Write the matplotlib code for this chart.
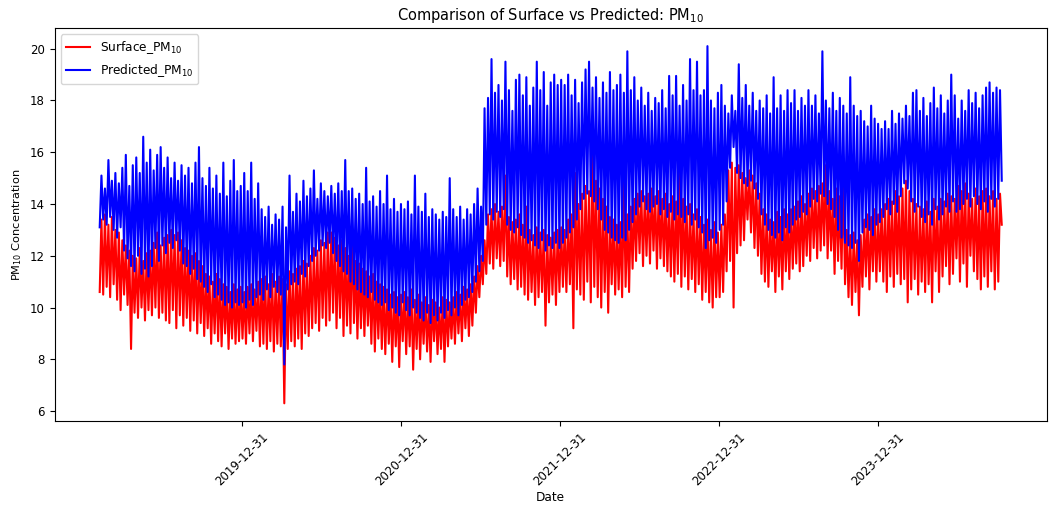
import pandas as pd
import matplotlib
matplotlib.use('Agg')
import matplotlib.pyplot as plt
import matplotlib.dates as mdates

# values, one every 4 days starting 2019-02-07
surface_2019 = [10.6, 13.4, 10.5, 13.6, 10.8, 13.2, 10.4, 13.5, 10.9, 13.0,
                10.3, 12.9, 9.9, 12.6, 10.5, 12.4, 10.1, 12.2, 8.4, 12.0,
                9.8, 11.9, 9.6, 12.3, 10.0, 11.8, 9.5, 12.1, 9.9, 12.2,
                9.7, 12.5, 10.0, 12.9, 9.6, 12.4, 9.8, 12.7, 9.5, 12.8,
                9.4, 13.0, 9.9, 12.8, 9.2, 12.9, 9.7, 12.6, 9.3, 12.3,
                9.6, 12.2, 9.1, 12.0, 9.5, 12.1, 9.0, 11.8, 9.4, 11.6,
                8.9, 11.3, 9.2, 11.2, 8.6, 11.0, 9.0, 11.3, 8.7, 11.1,
                8.5, 10.9, 9.0, 10.8, 8.4, 10.6, 8.8, 10.9, 8.6, 10.7,
                8.7, 10.8]
surface_2020 = [8.8, 10.6, 8.6, 10.8, 9.0, 10.9, 8.7, 10.7, 9.1, 11.0,
                8.5, 11.1, 8.6, 11.2, 8.4, 10.9, 8.7, 11.3, 8.3, 11.0,
                8.6, 11.2, 8.5, 11.1, 6.3, 10.9, 8.4, 11.4, 8.7, 11.3,
                8.5, 11.5, 8.8, 11.6, 8.4, 11.8, 9.0, 11.7, 8.9, 12.0,
                9.2, 12.3, 9.4, 12.2, 9.1, 12.6, 9.6, 12.5, 9.3, 12.9,
                9.5, 12.9, 9.8, 12.7, 9.2, 12.4, 9.6, 12.6, 8.9, 12.3,
                9.3, 12.0, 9.0, 13.0, 9.4, 11.8, 8.8, 11.7, 9.2, 11.5,
                8.9, 11.4, 9.3, 11.2, 8.6, 11.3, 8.3, 11.0, 8.8, 10.9,
                8.4, 10.8, 8.2, 10.7, 8.6, 10.5, 7.9, 10.6, 8.5, 10.4,
                7.7, 10.5]
surface_2021 = [8.7, 10.6, 8.2, 10.4, 8.5, 10.7, 7.6, 10.3, 8.4, 10.5,
                8.0, 10.2, 8.6, 10.4, 8.3, 10.1, 7.9, 10.3, 8.7, 10.2,
                8.2, 10.0, 8.4, 10.4, 7.9, 10.3, 8.5, 10.2, 8.8, 10.4,
                8.6, 10.6, 9.0, 10.5, 8.7, 10.8, 9.2, 10.7, 8.9, 10.9,
                9.3, 11.2, 9.8, 11.6, 10.4, 12.0, 10.9, 12.6, 11.3, 13.6,
                11.7, 13.8, 11.5, 14.0, 11.9, 13.7, 11.6, 13.9, 11.8, 15.1,
                11.2, 13.5, 10.9, 13.3, 11.1, 13.4, 10.7, 13.6, 10.8, 13.2,
                10.5, 13.9, 10.3, 13.0, 10.6, 12.8, 10.1, 13.1, 10.4, 12.9,
                10.6, 13.0, 9.3, 12.8, 10.2, 12.7, 10.5, 12.9, 10.1, 13.0,
                10.6, 13.1]
surface_2022 = [10.8, 13.0, 10.6, 13.4, 10.9, 13.6, 9.2, 15.2, 10.7, 14.0,
                10.5, 14.4, 10.3, 14.7, 11.0, 14.5, 10.2, 15.9, 10.8, 14.9,
                10.4, 14.6, 10.0, 14.2, 10.6, 13.9, 9.8, 13.5, 10.9, 13.4,
                10.5, 13.2, 10.7, 13.3, 10.4, 14.9, 10.8, 13.6, 10.6, 13.9,
                11.5, 14.2, 11.8, 14.4, 12.1, 14.5, 11.6, 14.3, 12.0, 14.4,
                11.7, 14.6, 12.2, 14.3, 11.5, 14.5, 11.9, 14.2, 11.6, 14.4,
                11.4, 14.0, 11.2, 14.3, 11.0, 14.1, 11.3, 15.6, 10.8, 14.2,
                11.2, 13.9, 10.7, 14.0, 11.1, 13.6, 10.6, 13.8, 10.9, 13.5,
                10.3, 13.2, 10.6, 13.4, 10.2, 13.0, 10.0, 13.3, 10.4, 12.9,
                10.4, 13.2]
surface_2023 = [10.6, 13.6, 11.4, 15.3, 11.8, 15.6, 10.0, 15.4, 12.1, 15.5,
                12.4, 15.2, 12.6, 15.0, 13.4, 15.3, 12.9, 15.1, 12.3, 14.8,
                12.0, 14.4, 11.3, 13.8, 11.0, 13.6, 10.8, 13.4, 11.4, 13.3,
                10.6, 13.7, 11.2, 13.5, 10.7, 13.8, 11.4, 13.6, 11.1, 13.8,
                11.5, 13.9, 11.7, 14.1, 11.4, 14.3, 11.6, 14.0, 12.0, 14.4,
                11.8, 14.6, 12.3, 14.5, 11.9, 14.7, 12.2, 14.8, 12.4, 15.5,
                11.9, 14.5, 12.2, 14.2, 11.3, 14.6, 11.8, 14.3, 11.5, 15.3,
                10.9, 13.0, 10.4, 12.8, 10.1, 12.9, 10.6, 12.6, 9.7, 12.8,
                10.8, 13.4, 11.2, 13.6, 10.7, 13.5, 11.4, 13.8, 11.0, 13.6,
                11.4, 13.8]
surface_2024 = [11.0, 14.0, 10.6, 14.2, 11.2, 14.1, 10.8, 14.5, 11.3, 14.3,
                10.9, 14.6, 11.1, 14.9, 10.2, 14.5, 10.7, 14.2, 11.1, 14.0,
                10.5, 13.9, 11.0, 13.8, 10.6, 14.1, 10.9, 13.7, 10.2, 14.2,
                11.4, 13.9, 10.6, 14.2, 11.2, 14.1, 11.6, 14.4, 10.9, 14.3,
                11.3, 14.2, 11.9, 14.7, 11.0, 14.5, 11.7, 14.8,
                10.8, 14.4, 12.0, 14.2, 11.4, 14.6, 11.1, 14.3, 10.7, 14.5,
                11.2, 14.6, 10.8, 14.3, 11.4, 14.5, 10.7, 14.2, 11.0, 14.4,
                13.2]

predicted_2019 = [13.1, 15.1, 13.4, 14.6, 13.2, 15.7, 13.5, 14.9, 13.0, 15.2,
                  12.7, 14.8, 13.1, 15.4, 12.2, 15.9, 11.9, 14.7, 11.6, 15.5,
                  11.4, 15.8, 12.0, 15.2, 11.3, 16.6, 11.5, 15.6, 11.2, 16.1,
                  11.6, 15.3, 12.3, 15.9, 11.8, 16.2, 12.4, 15.4, 12.1, 15.8,
                  12.5, 15.0, 12.3, 15.6, 12.6, 14.9, 12.2, 15.5, 11.7, 15.1,
                  11.6, 15.4, 11.3, 14.8, 11.5, 15.6, 11.1, 16.2, 11.0, 15.0,
                  10.8, 14.7, 10.6, 15.4, 10.9, 14.6, 10.4, 15.1, 10.5, 14.4,
                  10.3, 15.6, 10.1, 14.3, 10.2, 14.9, 10.0, 15.7, 10.2, 14.5,
                  10.1, 14.7]
predicted_2020 = [10.2, 15.2, 10.0, 14.5, 10.3, 15.6, 10.1, 14.2, 10.4, 14.8,
                  10.5, 13.8, 10.3, 13.5, 10.7, 13.9, 10.4, 13.2, 10.8, 13.6,
                  10.6, 13.4, 10.5, 13.9, 7.8, 13.1, 10.7, 15.1, 10.9, 13.7,
                  11.0, 14.4, 10.9, 14.1, 11.3, 14.9, 11.2, 14.3, 11.6, 14.6,
                  11.8, 15.3, 12.0, 14.2, 12.2, 14.8, 12.4, 14.5, 12.3, 14.3,
                  12.5, 14.7, 12.1, 14.4, 11.8, 14.8, 11.6, 14.5, 11.4, 15.7,
                  11.3, 14.5, 11.0, 14.6, 10.9, 14.2, 10.7, 14.4, 10.6, 14.0,
                  10.5, 15.4, 10.4, 14.1, 10.6, 14.3, 10.3, 13.9, 10.2, 14.5,
                  10.1, 14.0, 10.2, 15.1, 9.9, 13.8, 10.0, 14.2, 9.8, 13.7,
                  9.7, 14.0]
predicted_2021 = [10.2, 13.8, 9.9, 14.1, 9.7, 13.6, 10.0, 15.1, 9.8, 13.9,
                  9.6, 13.7, 9.5, 14.4, 9.8, 13.5, 9.4, 13.8, 9.7, 13.6,
                  9.5, 13.4, 9.8, 13.7, 9.6, 13.5, 9.9, 15.0, 9.7, 13.8,
                  10.0, 13.5, 9.7, 13.9, 10.1, 13.4, 10.3, 13.8, 10.4, 13.6,
                  10.6, 14.0, 11.0, 14.6, 11.4, 13.9, 11.8, 17.7, 13.2, 18.1,
                  13.6, 19.6, 13.4, 18.3, 13.7, 18.6, 13.5, 18.0, 13.8, 19.5,
                  13.2, 18.4, 13.0, 17.6, 12.9, 18.8, 13.1, 19.0, 12.8, 18.2,
                  12.7, 18.9, 12.5, 17.8, 12.6, 18.5, 12.4, 19.5, 12.3, 18.4,
                  12.6, 19.1, 12.2, 17.8, 12.4, 18.7, 12.3, 19.0, 12.5, 18.6,
                  12.3, 18.8]
predicted_2022 = [12.5, 18.6, 12.7, 19.0, 12.9, 18.2, 13.1, 18.8, 13.4, 17.9,
                  13.8, 18.7, 14.2, 19.2, 14.4, 19.5, 14.3, 18.5, 14.1, 18.9,
                  13.8, 18.1, 13.4, 18.7, 13.0, 18.3, 12.9, 19.1, 12.7, 18.4,
                  12.6, 18.6, 12.5, 19.0, 12.7, 18.3, 12.6, 19.9, 13.0, 18.4,
                  13.3, 18.9, 13.6, 18.0, 13.9, 18.5, 14.1, 17.8, 13.8, 18.3,
                  13.7, 17.6, 13.9, 18.1, 14.0, 17.9, 13.6, 18.4, 13.8, 17.7,
                  13.5, 18.95, 13.7, 18.2, 13.4, 18.95, 13.6, 17.8, 13.5, 18.6,
                  13.3, 18.0, 13.6, 19.6, 13.2, 18.4, 13.4, 19.5, 13.1, 18.2,
                  12.9, 18.4, 12.3, 20.1, 12.6, 18.0, 12.7, 17.7, 12.5, 18.3,
                  13.0, 18.6]
predicted_2023 = [13.2, 17.8, 14.1, 17.5, 15.4, 18.2, 16.2, 17.6, 15.2, 19.4,
                  15.0, 18.1, 14.8, 18.6, 14.7, 17.8, 14.9, 18.3, 14.6, 17.6,
                  14.2, 18.0, 13.6, 17.7, 13.2, 18.2, 13.0, 17.5, 12.8, 18.9,
                  12.7, 17.7, 12.9, 18.2, 12.6, 17.6, 13.1, 18.4, 12.9, 17.9,
                  13.2, 18.4, 13.4, 17.6, 13.5, 18.1, 13.7, 17.8, 13.6, 18.4,
                  13.9, 17.8, 14.2, 18.2, 14.1, 17.5, 14.4, 19.9, 14.3, 18.0,
                  14.0, 17.7, 13.8, 18.3, 13.5, 17.6, 13.0, 18.1, 12.7, 17.8,
                  12.5, 17.5, 12.4, 18.9, 12.3, 17.8, 12.5, 17.4, 11.8, 17.6,
                  12.9, 17.2, 13.1, 17.0, 13.0, 17.8, 12.8, 17.3, 13.2, 17.1,
                  13.3, 16.9]
predicted_2024 = [13.5, 17.2, 13.8, 16.9, 13.6, 17.6, 14.0, 17.1, 13.7, 17.5,
                  14.3, 17.3, 14.8, 17.8, 14.6, 17.4, 14.1, 18.3, 13.7, 18.4,
                  13.9, 17.6, 13.5, 18.1, 13.3, 17.4, 13.6, 17.9, 13.2, 18.5,
                  13.8, 17.7, 13.4, 18.2, 13.6, 17.5, 13.9, 18.0, 13.7, 19.0,
                  14.1, 18.2, 13.7, 17.3, 13.8, 18.0, 14.0, 17.6,
                  14.2, 18.4, 13.9, 17.9, 14.3, 18.3, 14.0, 17.7, 13.8, 18.2,
                  14.1, 18.5, 13.7, 18.7, 14.2, 18.3, 13.9, 18.5, 14.2, 18.4,
                  14.9]

surface = (surface_2019 + surface_2020 + surface_2021 + surface_2022
           + surface_2023 + surface_2024)
predicted = (predicted_2019 + predicted_2020 + predicted_2021 + predicted_2022
             + predicted_2023 + predicted_2024)
dates = pd.date_range('2019-02-07', periods=len(surface), freq='4D')

fig, ax = plt.subplots(figsize=(10.5, 5.05), dpi=100)
fig.subplots_adjust(left=0.052, right=0.997, top=0.944, bottom=0.166)

ax.plot(dates, surface, color='red', linewidth=1.5, label='Surface_PM$_{10}$')
ax.plot(dates, predicted, color='blue', linewidth=1.5, label='Predicted_PM$_{10}$')

ax.set_title('Comparison of Surface vs Predicted: PM$_{10}$', fontsize=10.5)
ax.set_xlabel('Date', fontsize=8.75, labelpad=2)
ax.set_ylabel('PM$_{10}$ Concentration', fontsize=8.2)

# ticks at each year end
ax.set_xticks(pd.date_range('2019-12-31', '2023-12-31', freq='YE'))
ax.xaxis.set_major_formatter(mdates.DateFormatter('%Y-%m-%d'))
plt.xticks(rotation=45)
ax.tick_params(labelsize=8.5)
ax.legend(loc='upper left', fontsize=8.75)

fig.savefig('out.png', dpi=100)
